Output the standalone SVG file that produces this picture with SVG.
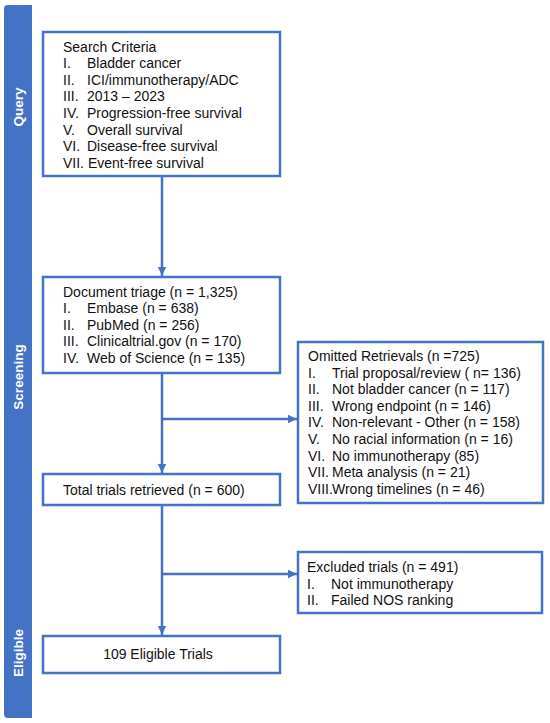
<svg xmlns="http://www.w3.org/2000/svg" width="550" height="723" viewBox="0 0 550 723">
  <style>
    .box { fill: #ffffff; stroke: #4472C4; stroke-width: 2.5; }
    .t { font-family: "Liberation Sans", Arial, sans-serif; font-size: 14px; fill: #111111; }
    .lab { font-family: "Liberation Sans", Arial, sans-serif; font-size: 13.5px; font-weight: bold; fill: #ffffff; text-anchor: middle; }
    .conn { fill: none; stroke: #4472C4; stroke-width: 2.5; }
  </style>
  <defs>
    <marker id="arrow" markerUnits="userSpaceOnUse" markerWidth="10" markerHeight="10" viewBox="0 0 10 10" refX="9" refY="5" orient="auto">
      <path d="M0,0.8 L9,5 L0,9.2 Z" fill="#4472C4"/>
    </marker>
  </defs>
  <rect width="550" height="723" fill="#ffffff"/>

  <g id="sidebar">
    <path d="M32,5 H8 Q4,5 4,9 V714 Q4,718 8,718 H32 Z" fill="#4472C4"/>
    <text class="lab" transform="translate(22.5,107) rotate(-90)">Query</text>
    <text class="lab" transform="translate(22.5,377) rotate(-90)">Screening</text>
    <text class="lab" transform="translate(22.5,653) rotate(-90)">Eligible</text>
  </g>

  <g id="connectors">
    <line class="conn" x1="162" y1="176" x2="162" y2="276" marker-end="url(#arrow)"/>
    <line class="conn" x1="162" y1="373" x2="162" y2="473" marker-end="url(#arrow)"/>
    <line class="conn" x1="162" y1="419" x2="297" y2="419" marker-end="url(#arrow)"/>
    <line class="conn" x1="162" y1="505" x2="162" y2="635" marker-end="url(#arrow)"/>
    <line class="conn" x1="162" y1="574" x2="297" y2="574" marker-end="url(#arrow)"/>
  </g>

  <g id="search-criteria">
    <rect class="box" x="43" y="32" width="237" height="144"/>
    <text class="t" x="63" y="51.5">Search Criteria</text>
    <text class="t" x="63" y="68">I.</text><text class="t" x="87" y="68">Bladder cancer</text>
    <text class="t" x="63" y="84.7">II.</text><text class="t" x="87" y="84.7">ICI/immunotherapy/ADC</text>
    <text class="t" x="63" y="101.3">III.</text><text class="t" x="87" y="101.3">2013 – 2023</text>
    <text class="t" x="63" y="118">IV.</text><text class="t" x="87" y="118">Progression-free survival</text>
    <text class="t" x="63" y="134.6">V.</text><text class="t" x="87" y="134.6">Overall survival</text>
    <text class="t" x="63" y="151.2">VI.</text><text class="t" x="87" y="151.2">Disease-free survival</text>
    <text class="t" x="63" y="167.8">VII. Event-free survival</text>
  </g>

  <g id="document-triage">
    <rect class="box" x="43" y="277" width="237" height="96"/>
    <text class="t" x="63" y="296.5">Document triage (n = 1,325)</text>
    <text class="t" x="63" y="313">I.</text><text class="t" x="87" y="313">Embase (n = 638)</text>
    <text class="t" x="63" y="329.6">II.</text><text class="t" x="87" y="329.6">PubMed (n = 256)</text>
    <text class="t" x="63" y="346.2">III.</text><text class="t" x="87" y="346.2">Clinicaltrial.gov (n = 170)</text>
    <text class="t" x="63" y="362.8">IV.</text><text class="t" x="87" y="362.8">Web of Science (n = 135)</text>
  </g>

  <g id="omitted">
    <rect class="box" x="298" y="342" width="245" height="161"/>
    <text class="t" x="308" y="361">Omitted Retrievals (n =725)</text>
    <text class="t" x="308" y="377.6">I.</text><text class="t" x="332" y="377.6">Trial proposal/review ( n= 136)</text>
    <text class="t" x="308" y="394.2">II.</text><text class="t" x="332" y="394.2">Not bladder cancer (n = 117)</text>
    <text class="t" x="308" y="410.8">III.</text><text class="t" x="332" y="410.8">Wrong endpoint (n = 146)</text>
    <text class="t" x="308" y="427.4">IV.</text><text class="t" x="332" y="427.4">Non-relevant - Other (n = 158)</text>
    <text class="t" x="308" y="444">V.</text><text class="t" x="332" y="444">No racial information (n = 16)</text>
    <text class="t" x="308" y="460.6">VI.</text><text class="t" x="332" y="460.6">No immunotherapy (85)</text>
    <text class="t" x="308" y="477.2">VII.</text><text class="t" x="332" y="477.2">Meta analysis (n = 21)</text>
    <text class="t" x="308" y="493.8">VIII.</text><text class="t" x="332" y="493.8">Wrong timelines (n = 46)</text>
  </g>

  <g id="total-trials">
    <rect class="box" x="43" y="474" width="237" height="31"/>
    <text class="t" x="63" y="495">Total trials retrieved (n = 600)</text>
  </g>

  <g id="excluded">
    <rect class="box" x="298" y="552" width="244" height="61"/>
    <text class="t" x="307" y="572">Excluded trials (n = 491)</text>
    <text class="t" x="307" y="588.5">I.</text><text class="t" x="331" y="588.5">Not immunotherapy</text>
    <text class="t" x="307" y="605">II.</text><text class="t" x="331" y="605">Failed NOS ranking</text>
  </g>

  <g id="eligible-trials">
    <rect class="box" x="43" y="636" width="237" height="37"/>
    <text class="t" x="158" y="659" text-anchor="middle">109 Eligible Trials</text>
  </g>
</svg>
